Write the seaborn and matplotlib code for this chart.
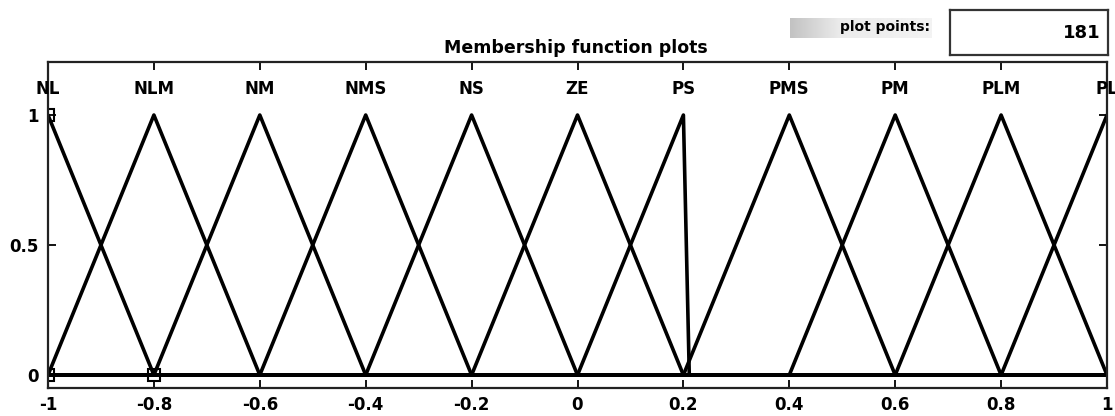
import numpy as np
import pandas as pd
import matplotlib
matplotlib.use("Agg")
import matplotlib.pyplot as plt
import seaborn as sns

# Triangular membership functions (a, b, c) on the universe [-1, 1]
mf_names = ["NL", "NLM", "NM", "NMS", "NS", "ZE", "PS", "PMS", "PM", "PLM", "PL"]
mf_a = [-1.2, -1.0, -0.8, -0.6, -0.4, -0.2, 0.0, 0.2, 0.4, 0.6, 0.8]
mf_b = [-1.0, -0.8, -0.6, -0.4, -0.2, 0.0, 0.2, 0.4, 0.6, 0.8, 1.0]
mf_c = [-0.8, -0.6, -0.4, -0.2, 0.0, 0.2, 0.201, 0.6, 0.8, 1.0, 1.2]
n_points = 181

x_ticks = [-1, -0.8, -0.6, -0.4, -0.2, 0, 0.2, 0.4, 0.6, 0.8, 1]
x_tick_labels = ["-1", "-0.8", "-0.6", "-0.4", "-0.2", "0", "0.2", "0.4", "0.6", "0.8", "1"]
y_ticks = [0, 0.5, 1]
y_tick_labels = ["0", "0.5", "1"]

# Vertex handles of the selected function (NL)
handle_x = [-1.0, -1.0, -0.8]
handle_y = [1.0, 0.0, 0.0]


def trimf(x, a, b, c):
    left = (x - a) / (b - a) if b > a else np.ones_like(x)
    right = (c - x) / (c - b) if c > b else np.ones_like(x)
    return np.clip(np.minimum(left, right), 0, 1)


xs = np.linspace(-1, 1, n_points)
frames = []
for name, a, b, c in zip(mf_names, mf_a, mf_b, mf_c):
    frames.append(pd.DataFrame({"x": xs, "mu": trimf(xs, a, b, c), "mf": name}))
df = pd.concat(frames, ignore_index=True)

sns.set_style("white")
plt.rcParams["font.family"] = ["DejaVu Sans"]
plt.rcParams["font.weight"] = "bold"
plt.rcParams["text.color"] = "black"
plt.rcParams["xtick.color"] = "black"
plt.rcParams["ytick.color"] = "black"
plt.rcParams["axes.labelcolor"] = "black"

fig = plt.figure(figsize=(11.15, 4.16), dpi=100)
ax = fig.add_axes([48 / 1115, 1 - 388 / 416, (1107 - 48) / 1115, (388 - 62) / 416])

sns.lineplot(data=df, x="x", y="mu", units="mf", estimator=None, color="black",
             linewidth=2.6, ax=ax, legend=False, sort=False)

ax.plot(handle_x, handle_y, linestyle="none", marker="s", markersize=9,
        markerfacecolor="none", markeredgecolor="black", markeredgewidth=1.5)

ax.set_xlim(-1, 1)
ax.set_ylim(-0.05, 1.204)
ax.set_xticks(x_ticks)
ax.set_xticklabels(x_tick_labels, fontsize=12, fontweight="bold", color="black")
ax.set_yticks(y_ticks)
ax.set_yticklabels(y_tick_labels, fontsize=12, fontweight="bold", color="black")
ax.set_xlabel("")
ax.set_ylabel("")
ax.tick_params(axis="x", pad=6)
ax.tick_params(axis="y", pad=7)
ax.tick_params(direction="in", length=6, width=1.3, top=True, right=True,
               bottom=True, left=True, colors="black")
for sp in ax.spines.values():
    sp.set_linewidth(1.6)
    sp.set_color("#222222")

for name, b in zip(mf_names, mf_b):
    ax.text(b, 1.10, name, ha="center", va="center", fontsize=12,
            fontweight="bold", color="black", clip_on=False)

fig.text(576 / 1115, 1 - 48 / 416, "Membership function plots", ha="center",
         va="center", fontsize=12.5, fontweight="bold", color="black")

# "plot points:" label on a gray gradient strip
gax = fig.add_axes([790 / 1115, 1 - 38 / 416, (932 - 790) / 1115, 20 / 416])
ramp = np.concatenate([np.linspace(0.76, 0.92, 90), np.linspace(0.92, 0.95, 166)])
gax.imshow(ramp[None, :], aspect="auto", cmap="gray", vmin=0, vmax=1)
gax.axis("off")
fig.text(930 / 1115, 1 - 27 / 416, "plot points:", ha="right", va="center",
         fontsize=10, fontweight="bold", color="black")

# Value box
bax = fig.add_axes([950 / 1115, 1 - 55 / 416, (1108 - 950) / 1115, 45 / 416])
bax.set_xticks([])
bax.set_yticks([])
for sp in bax.spines.values():
    sp.set_linewidth(1.6)
    sp.set_color("#333333")
bax.text(0.95, 0.5, "181", transform=bax.transAxes, ha="right", va="center",
         fontsize=13, fontweight="bold", color="black")

fig.savefig("out.png", dpi=100)
